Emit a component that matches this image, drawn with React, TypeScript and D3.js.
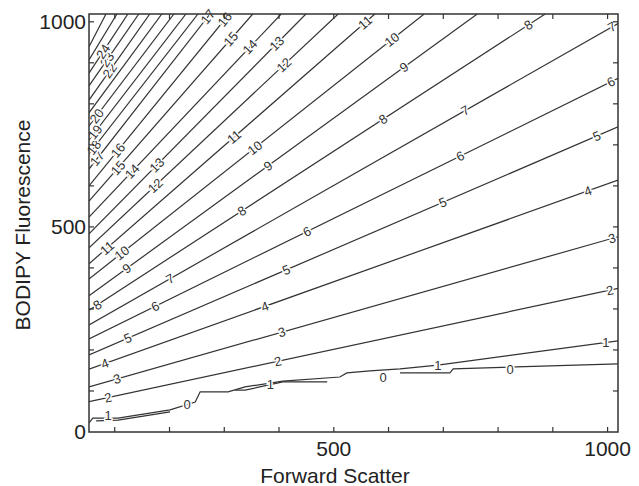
import * as d3 from 'd3';

const W = 639;
const H = 486;
const margin = { left: 89, right: 21, top: 14, bottom: 54 };

// contour levels 2..26, each a straight segment from the left axis to the right/top edge
const levels = [2, 3, 4, 5, 6, 7, 8, 9, 10, 11, 12, 13, 14, 15, 16, 17, 18, 19, 20, 21, 22, 23, 24, 25, 26];
const startY = [74, 110, 153, 188, 227, 261, 297, 332, 373, 410, 449, 483, 524, 563, 600, 641, 678, 712, 746, 778, 809, 844, 875, 907, 939];
const endX = [1019, 1019, 1019, 1019, 1019, 1019, 886, 762, 665, 575, 508, 449, 404, 352, 309, 274, 252, 230, 208, 186, 164, 144, 124, 104, 84];
const endY = [350, 476, 614, 744, 862, 996, 1019, 1019, 1019, 1019, 1019, 1019, 1019, 1019, 1019, 1019, 1019, 1019, 1019, 1019, 1019, 1019, 1019, 1019, 1019];
const labelX: number[][] = [
  [88, 398, 1004],
  [104, 405, 1008],
  [82, 374, 964],
  [124, 413, 699, 980],
  [174, 451, 731, 1006],
  [201, 740, 1008],
  [68, 332, 590, 855],
  [122, 380, 628],
  [113, 356, 606],
  [86, 318, 557],
  [174, 409],
  [177, 396],
  [132, 347],
  [106, 312],
  [106, 301],
  [68, 270],
  [62],
  [64],
  [67],
  [],
  [91],
  [86],
  [79],
  [],
  [],
];

// the noisy low levels near the bottom
const level1Path: [number, number][] = [
  [53, 22], [60, 34], [106, 34], [201, 54], [247, 73], [256, 98], [307, 98], [338, 110],
  [407, 124], [511, 134], [524, 144], [566, 149], [621, 154], [690, 163], [1019, 222],
];
const level0Paths: [number, number][][] = [
  [[66, 27], [106, 29], [201, 49]],
  [[320, 102], [338, 102], [407, 122], [488, 122]],
  [[621, 144], [712, 144], [718, 154], [1019, 166]],
];
const lowLabels: { text: string; x: number; y: number }[] = [
  { text: '1', x: 88, y: 40 },
  { text: '0', x: 232, y: 68 },
  { text: '1', x: 384, y: 117 },
  { text: '0', x: 590, y: 134 },
  { text: '1', x: 690, y: 163 },
  { text: '0', x: 822, y: 152 },
  { text: '1', x: 997, y: 219 },
];

const xTicks = [100, 200, 300, 400, 500, 600, 700, 800, 900, 1000];
const yTicks = [100, 200, 300, 400, 500, 600, 700, 800, 900, 1000];
const xTickLabels = [500, 1000];
const yTickLabels = [0, 500, 1000];

export default function App() {
  const x = d3.scaleLinear().domain([53, 1019]).range([margin.left, W - margin.right]);
  const y = d3.scaleLinear().domain([0, 1019]).range([H - margin.bottom, margin.top]);
  const line = d3.line<[number, number]>().x(d => x(d[0])).y(d => y(d[1]));

  const x0 = 53;
  const ink = '#333';
  const font = 'Liberation Sans, Arial, sans-serif';

  const labels: { key: string; text: string; px: number; py: number; angle: number }[] = [];
  levels.forEach((lv, i) => {
    const dxPx = x(endX[i]) - x(x0);
    const dyPx = y(endY[i]) - y(startY[i]);
    const angle = (Math.atan2(dyPx, dxPx) * 180) / Math.PI;
    labelX[i].forEach((lx, j) => {
      const ly = startY[i] + ((endY[i] - startY[i]) * (lx - x0)) / (endX[i] - x0);
      labels.push({ key: `${lv}-${j}`, text: String(lv), px: x(lx), py: y(ly), angle });
    });
  });

  const plotBottom = H - margin.bottom;
  const plotRight = W - margin.right;

  return (
    <svg width={W} height={H} style={{ position: 'absolute', left: 0, top: 0, background: '#fff' }}>
      <defs>
        <clipPath id="plot">
          <rect x={margin.left} y={margin.top} width={plotRight - margin.left} height={plotBottom - margin.top} />
        </clipPath>
      </defs>
      <g clipPath="url(#plot)" fill="none" stroke={ink} strokeWidth={1.2}>
        {levels.map((lv, i) => (
          <path key={lv} d={line([[x0, startY[i]], [endX[i], endY[i]]]) || ''} />
        ))}
        <path d={line(level1Path) || ''} />
        {level0Paths.map((p, i) => (
          <path key={i} d={line(p) || ''} />
        ))}
      </g>
      <g fontFamily={font} fontSize={13} fill={ink} textAnchor="middle">
        {labels.map(l => (
          <text
            key={l.key}
            transform={`translate(${l.px},${l.py}) rotate(${l.angle})`}
            dy="0.35em"
            stroke="#fff"
            strokeWidth={3}
            paintOrder="stroke"
          >
            {l.text}
          </text>
        ))}
        {lowLabels.map((l, i) => (
          <text key={i} x={x(l.x)} y={y(l.y)} dy="0.35em" stroke="#fff" strokeWidth={3} paintOrder="stroke">
            {l.text}
          </text>
        ))}
      </g>
      {/* frame and inward ticks */}
      <rect x={margin.left} y={margin.top} width={plotRight - margin.left} height={plotBottom - margin.top} fill="none" stroke={ink} strokeWidth={1.5} />
      <g stroke={ink} strokeWidth={1.2}>
        {xTicks.map(t => (
          <g key={t}>
            <line x1={x(t)} x2={x(t)} y1={plotBottom} y2={plotBottom - 5} />
            <line x1={x(t)} x2={x(t)} y1={margin.top} y2={margin.top + 5} />
          </g>
        ))}
        {yTicks.map(t => (
          <g key={t}>
            <line x1={margin.left} x2={margin.left + 5} y1={y(t)} y2={y(t)} />
            <line x1={plotRight} x2={plotRight - 5} y1={y(t)} y2={y(t)} />
          </g>
        ))}
      </g>
      <g fontFamily={font} fontSize={21} fill="#222">
        {xTickLabels.map(t => (
          <text key={t} x={x(t)} y={plotBottom + 24} textAnchor="middle">{t}</text>
        ))}
        {yTickLabels.map(t => (
          <text key={t} x={margin.left - 3} y={y(t)} dy="0.35em" textAnchor="end">{t}</text>
        ))}
        <text x={335} y={483} textAnchor="middle">Forward Scatter</text>
        <text transform={`translate(30,${(margin.top + plotBottom) / 2 + 2}) rotate(-90)`} textAnchor="middle">
          BODIPY Fluorescence
        </text>
      </g>
    </svg>
  );
}
